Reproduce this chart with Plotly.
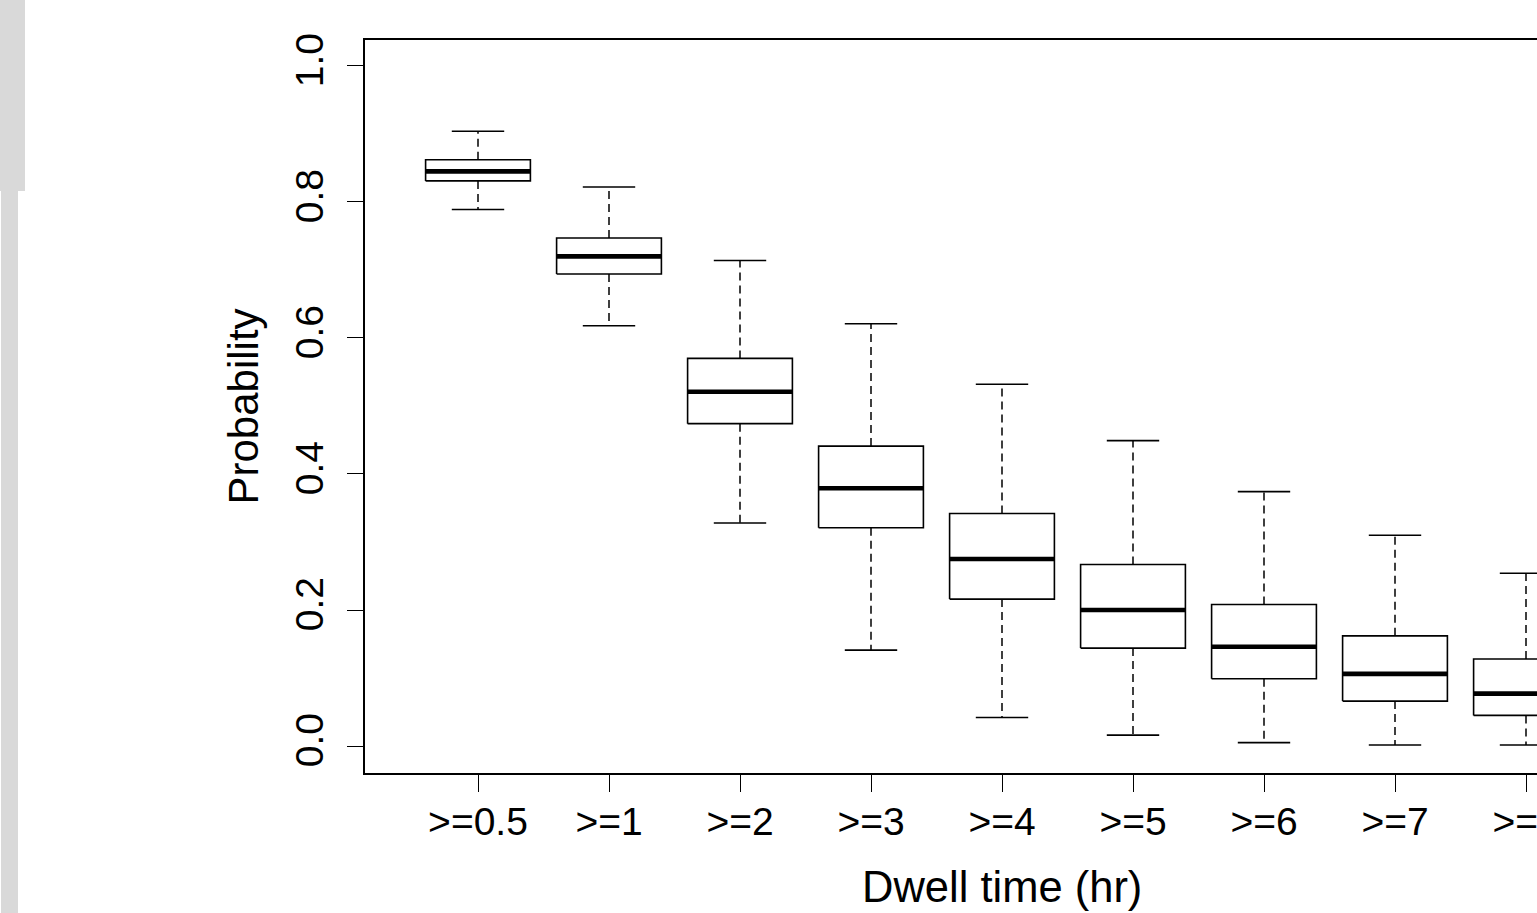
import plotly.graph_objects as go

# Dwell-time thresholds and five-number summaries of the probability
categories = [">=0.5", ">=1", ">=2", ">=3", ">=4", ">=5", ">=6", ">=7", ">=8"]
lower_whisker = [0.789, 0.618, 0.328, 0.141, 0.042, 0.016, 0.005, 0.0015, 0.0015]
q1 = [0.831, 0.694, 0.474, 0.321, 0.216, 0.144, 0.099, 0.066, 0.045]
median = [0.845, 0.720, 0.521, 0.379, 0.275, 0.200, 0.146, 0.106, 0.077]
q3 = [0.862, 0.747, 0.570, 0.441, 0.342, 0.267, 0.208, 0.162, 0.128]
upper_whisker = [0.904, 0.822, 0.714, 0.621, 0.532, 0.449, 0.374, 0.310, 0.254]
y_ticks = [0.0, 0.2, 0.4, 0.6, 0.8, 1.0]

W, H = 1537, 913
ML, MT, MB = 365, 40, 140
FONT = "Liberation Sans, Arial, sans-serif"
BOX_HALF = 0.4
CAP_HALF = 0.2

pos = list(range(1, len(categories) + 1))

box_x, box_y = [], []
med_x, med_y = [], []
wh_x, wh_y = [], []
cap_x, cap_y = [], []
for p, lo, a, m, b, hi in zip(pos, lower_whisker, q1, median, q3, upper_whisker):
    box_x += [p - BOX_HALF, p + BOX_HALF, p + BOX_HALF, p - BOX_HALF, p - BOX_HALF, None]
    box_y += [a, a, b, b, a, None]
    med_x += [p - BOX_HALF, p + BOX_HALF, None]
    med_y += [m, m, None]
    wh_x += [p, p, None, p, p, None]
    wh_y += [b, hi, None, a, lo, None]
    cap_x += [p - CAP_HALF, p + CAP_HALF, None, p - CAP_HALF, p + CAP_HALF, None]
    cap_y += [hi, hi, None, lo, lo, None]

fig = go.Figure()
fig.add_trace(go.Scatter(x=wh_x, y=wh_y, mode="lines", hoverinfo="skip",
                         line=dict(color="black", width=1.5, dash="8px,5px")))
fig.add_trace(go.Scatter(x=cap_x, y=cap_y, mode="lines", hoverinfo="skip",
                         line=dict(color="black", width=1.6)))
fig.add_trace(go.Scatter(x=box_x, y=box_y, mode="lines", hoverinfo="skip",
                         line=dict(color="black", width=1.6)))
fig.add_trace(go.Scatter(x=med_x, y=med_y, mode="lines", hoverinfo="skip",
                         line=dict(color="black", width=4.6)))

# plot region: data units -> pixels
x_lo = 1 - (478 - ML) / 131.0
x_hi = 1 + (W - 478) / 131.0
y_lo = -0.0397
y_hi = 1.0382
plot_w = W - ML

fig.update_layout(
    width=W, height=H,
    margin=dict(l=ML, r=0, t=MT, b=MB, pad=0, autoexpand=False),
    paper_bgcolor="white", plot_bgcolor="white",
    showlegend=False,
    font=dict(family=FONT, color="black"),
    xaxis=dict(
        range=[x_lo, x_hi], tickmode="array", tickvals=pos, ticktext=categories,
        showgrid=False, zeroline=False, showline=True, mirror=True,
        linecolor="black", linewidth=1.6, automargin=False,
        ticks="outside", ticklen=17, tickwidth=1.4, tickcolor="black",
        tickfont=dict(size=39, family=FONT, color="black"),
        ticklabelstandoff=-4, ticklabeloverflow="allow",
    ),
    yaxis=dict(
        range=[y_lo, y_hi], tickmode="array", tickvals=y_ticks,
        ticktext=[f"{v:.1f}" for v in y_ticks], tickangle=-90,
        showgrid=False, zeroline=False, showline=True, mirror=False,
        linecolor="black", linewidth=1.6, automargin=False,
        ticks="outside", ticklen=16, tickwidth=1.4, tickcolor="black",
        tickfont=dict(size=39, family=FONT, color="black"),
        ticklabelstandoff=9,
    ),
    annotations=[
        dict(text="Dwell time (hr)", xref="x", yref="paper",
             x=(x_lo + 1 + (1638 - 478) / 131.0) / 2, y=0, yshift=-114,
             xanchor="center", yanchor="middle", showarrow=False,
             font=dict(size=43.5, family=FONT, color="black")),
        dict(text="Probability", xref="paper", yref="paper",
             x=0, xshift=-122, y=0.5, textangle=-90,
             xanchor="center", yanchor="middle", showarrow=False,
             font=dict(size=42, family=FONT, color="black")),
    ],
    shapes=[
        dict(type="rect", xref="paper", yref="paper", layer="above",
             x0=(0 - ML) / plot_w, x1=(25 - ML) / plot_w,
             y0=1 + (MT - 0) / (H - MT - MB), y1=1 + (MT - 191) / (H - MT - MB),
             fillcolor="#d9d9d9", line=dict(width=0)),
        dict(type="rect", xref="paper", yref="paper", layer="above",
             x0=(1 - ML) / plot_w, x1=(18 - ML) / plot_w,
             y0=1 + (MT - 191) / (H - MT - MB), y1=1 + (MT - H) / (H - MT - MB),
             fillcolor="#d9d9d9", line=dict(width=0)),
    ],
)

fig.write_html("out.html")
